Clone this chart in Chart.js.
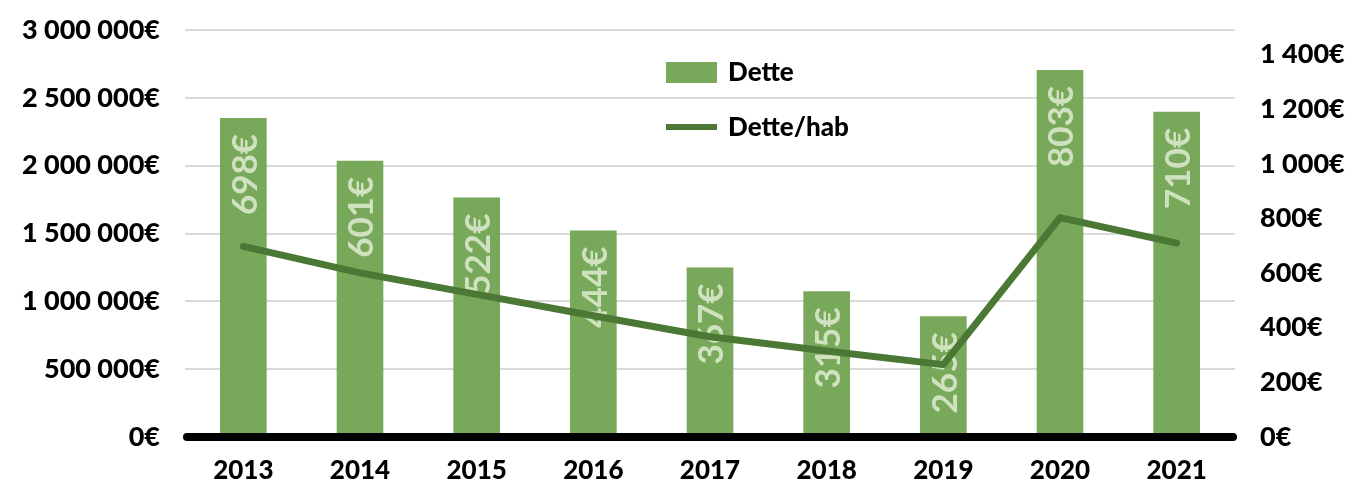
<!DOCTYPE html>
<html><head><meta charset="utf-8">
<script src="https://cdn.jsdelivr.net/npm/chart.js@4"></script>
<style>html,body{margin:0;padding:0;background:#fff}#wrap{width:1345px;height:484px;position:relative}</style>
</head><body><div id="wrap"><canvas id="c" width="1345" height="484"></canvas></div>
<script>
const categories = ['2013','2014','2015','2016','2017','2018','2019','2020','2021'];
const detteValues = [2352000, 2037000, 1765000, 1522000, 1250000, 1074000, 890000, 2706000, 2397000];
const detteParHab = [698, 601, 522, 444, 367, 315, 265, 803, 710];
const leftTicks = [0, 500000, 1000000, 1500000, 2000000, 2500000, 3000000];
const rightTicks = [0, 200, 400, 600, 800, 1000, 1200, 1400];
const legendLabels = ['Dette', 'Dette/hab'];

const BAR = '#78a85a';
const LINE = '#4b7935';
const LABEL = '#d0e1c0';
const FONT = 'Lato, "Open Sans", sans-serif';
const W = 900;

function fmt(v){ return String(v).replace(/\B(?=(\d{3})+(?!\d))/g, '\u00a0') + '€'; }

const overlay = {
  id: 'overlay',
  afterDatasetDraw(chart, args) {
    if (args.index !== 0) return;
    const ctx = chart.ctx;
    const meta = chart.getDatasetMeta(0);
    ctx.save();
    ctx.fillStyle = LABEL;
    ctx.font = 'bold 35px ' + FONT;
    ctx.textAlign = 'right';
    ctx.textBaseline = 'middle';
    meta.data.forEach((bar, i) => {
      ctx.save();
      ctx.translate(bar.x, bar.y + 16);
      ctx.rotate(-Math.PI / 2);
      ctx.fillText(detteParHab[i] + '€', 0, 2);
      ctx.restore();
    });
    ctx.restore();
  },
  afterDatasetsDraw(chart) {
    const ctx = chart.ctx;
    const a = chart.chartArea;
    const y0 = chart.scales.y.getPixelForValue(0);
    ctx.save();
    ctx.strokeStyle = '#000';
    ctx.lineWidth = 8;
    ctx.lineCap = 'round';
    ctx.beginPath();
    ctx.moveTo(a.left + 2, y0);
    ctx.lineTo(a.right - 2, y0);
    ctx.stroke();
    // legend
    ctx.fillStyle = BAR;
    ctx.fillRect(666, 62, 51, 21);
    ctx.strokeStyle = LINE;
    ctx.lineWidth = 6;
    ctx.lineCap = 'butt';
    ctx.beginPath();
    ctx.moveTo(666, 127);
    ctx.lineTo(717, 127);
    ctx.stroke();
    ctx.fillStyle = '#000';
    ctx.font = W + ' 26px ' + FONT;
    ctx.textAlign = 'left';
    ctx.textBaseline = 'middle';
    ctx.fillText(legendLabels[0], 728, 73);
    ctx.fillText(legendLabels[1], 728, 128);
    ctx.restore();
  }
};

function noPad(s) { s.paddingTop = 0; s.paddingBottom = 0; }

new Chart(document.getElementById('c'), {
  data: {
    labels: categories,
    datasets: [
      { type: 'bar', label: legendLabels[0], data: detteValues, backgroundColor: BAR, yAxisID: 'y', order: 1,
        barPercentage: 0.4, categoryPercentage: 1 },
      { type: 'line', label: legendLabels[1], data: detteParHab, borderColor: LINE, borderWidth: 7, yAxisID: 'y1', order: 0,
        pointRadius: 0, tension: 0, borderCapStyle: 'round', borderJoinStyle: 'round', fill: false }
    ]
  },
  options: {
    responsive: false,
    animation: false,
    events: [],
    layout: { padding: { top: 30, left: 0, right: 0, bottom: 0 } },
    plugins: { legend: { display: false }, tooltip: { enabled: false } },
    scales: {
      x: {
        grid: { display: false }, border: { display: false },
        ticks: { color: '#000', font: { family: FONT, size: 26, weight: W }, padding: 10 },
        afterFit(s) { s.height = 47; s.paddingLeft = 0; s.paddingRight = 0; }
      },
      y: {
        position: 'left', min: 0, max: 3000000,
        afterBuildTicks(s) { s.ticks = leftTicks.map(v => ({ value: v })); },
        grid: { color: c => c.tick && c.tick.value === 0 ? 'rgba(0,0,0,0)' : '#d9d9d9', lineWidth: 2, drawTicks: false },
        border: { display: false },
        ticks: { color: '#000', font: { family: FONT, size: 27, weight: W }, padding: 25, callback: v => fmt(v) },
        afterFit(s) { s.width = 185; noPad(s); }
      },
      y1: {
        position: 'right', min: 0, max: 1490,
        afterBuildTicks(s) { s.ticks = rightTicks.map(v => ({ value: v })); },
        grid: { display: false, drawOnChartArea: false }, border: { display: false },
        ticks: { color: '#000', font: { family: FONT, size: 27, weight: W }, padding: 17, callback: v => fmt(v) },
        afterFit(s) { s.width = 110; noPad(s); }
      }
    }
  },
  plugins: [overlay]
});
</script>
</body></html>
